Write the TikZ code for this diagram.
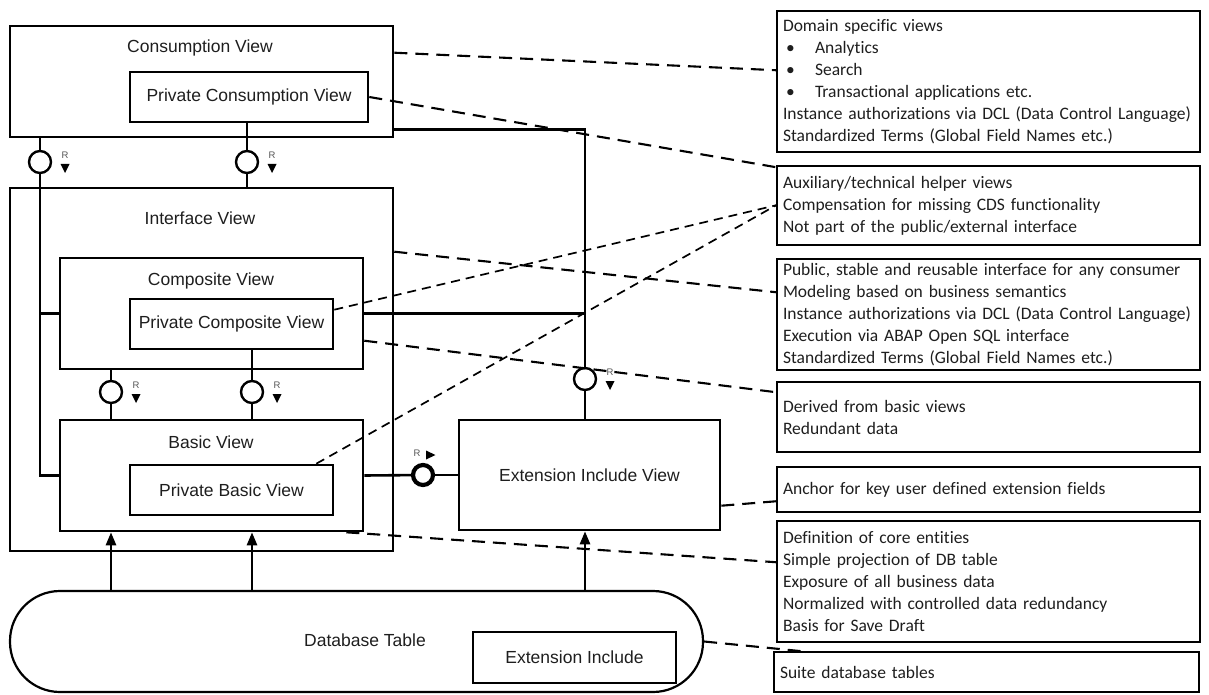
\documentclass[tikz,border=0pt]{standalone}
\usepackage{fontspec}
\setmainfont{Liberation Sans}
\newfontfamily\calibrifont[Ligatures=NoCommon]{Carlito}
\usetikzlibrary{arrows.meta,calc}
\definecolor{txt}{HTML}{1E1E1E}
\definecolor{rgrey}{HTML}{555555}
\newcommand\bul{\makebox[32pt][l]{\hspace{3pt}\textbullet}}
\begin{document}
\begin{tikzpicture}[x=1pt,y=-1pt,
  vbox/.style={draw, line width=2.6pt, inner sep=0pt},
  lbl/.style={inner sep=0pt, text=txt, font=\fontsize{17.5}{21}\selectfont},
  note/.style={draw, line width=1.5pt, inner xsep=6pt, inner ysep=0pt, align=left,
    text width=411pt, text=txt, font=\calibrifont\fontsize{17.5}{22}\selectfont},
  lol/.style={circle, draw, line width=2.4pt, minimum size=22pt, inner sep=0pt, fill=white},
  lolb/.style={circle, draw, line width=4.2pt, minimum size=20pt, inner sep=0pt, fill=white},
  conn/.style={line width=2.6pt},
  arr/.style={line width=2.6pt, -{Triangle[length=13pt,width=10pt]}},
  dbold/.style={line width=2.1pt, dash pattern=on 13pt off 8pt},
  dthin/.style={line width=1.7pt, dash pattern=on 9pt off 6pt},
  rl/.style={inner sep=0pt, text=rgrey, font=\fontsize{9.5}{10}\selectfont},
]
\useasboundingbox (0,0) rectangle (1209,695);

% ---- left column boxes
\node[vbox, minimum width=383pt, minimum height=111pt] (cons) at (201.5,81.5) {};
\node[lbl] (consL) at (200,48) {Consumption View};
\node[vbox, minimum width=238pt, minimum height=50pt, lbl, inner sep=0pt] (pcons) at (249,97) {Private Consumption View};

\node[vbox, minimum width=383pt, minimum height=363pt] (iface) at (201.5,369.5) {};
\node[lbl] (ifaceL) at (200,218) {Interface View};

\node[vbox, minimum width=303pt, minimum height=111pt] (comp) at (211.5,313.5) {};
\node[lbl] (compL) at (211,281) {Composite View};
\node[vbox, minimum width=203pt, minimum height=50pt, lbl, inner sep=0pt] (pcomp) at (231.5,324) {Private Composite View};

\node[vbox, minimum width=303pt, minimum height=111pt] (basic) at (211.5,475.5) {};
\node[lbl] (basicL) at (211,442) {Basic View};
\node[vbox, minimum width=203pt, minimum height=50pt, lbl, inner sep=0pt] (pbasic) at (231.5,490) {Private Basic View};

\node[vbox, minimum width=261pt, minimum height=110pt, lbl, inner sep=0pt] (ext) at (589.5,475) {Extension Include View};

\node[draw, line width=2.2pt, rounded corners=50pt, minimum width=693pt, minimum height=101pt, inner sep=0pt] (db) at (356.5,641.5) {};
\node[lbl] (dbL) at (365,640) {Database Table};
\node[vbox, line width=2.2pt, minimum width=203pt, minimum height=51pt, lbl, inner sep=0pt] (extinc) at (574.5,657.5) {Extension Include};

% ---- lollipops
\node[lol] (lolA) at (40,162) {};
\node[lol] (lolB) at (247,162) {};
\node[lol] (lolC) at (111,392) {};
\node[lol] (lolD) at (252,392) {};
\node[lol] (lolE) at (585,379) {};
\node[lolb] (lolF) at (423,475) {};

% R markers (down)
\foreach \n in {lolA,lolB,lolC,lolD,lolE}{
  \node[rl] at ($(\n)+(25,-7)$) {R};
  \fill ($(\n)+(20.5,2)$) -- ($(\n)+(29.5,2)$) -- ($(\n)+(25,11)$) -- cycle;
}
% R marker (right)
\node[rl] (rF) at ($(lolF)+(-6,-22)$) {R};
\fill ($(lolF)+(3,-24.5)$) -- ($(lolF)+(3,-15.5)$) -- ($(lolF)+(12.5,-20)$) -- cycle;

% ---- solid connectors
\draw[conn] (cons.south -| lolA) -- (lolA);
\draw[conn] (lolA) -- (lolA |- basic.west) -- (basic.west);
\draw[conn] (lolA |- comp.west) -- (comp.west);
\draw[conn] (pcons.south -| lolB) -- (lolB);
\draw[conn] (lolB) -- (lolB |- iface.north);
\draw[conn] (comp.south -| lolC) -- (lolC);
\draw[conn] (lolC) -- (lolC |- basic.north);
\draw[conn] (pcomp.south -| lolD) -- (lolD);
\draw[conn] (lolD) -- (lolD |- basic.north);
\draw[conn] ([yshift=9pt]cons.south east) -| (lolE);
\draw[conn] (comp.east) -- (comp.east -| lolE);
\draw[conn] (lolE) -- (lolE |- ext.north);
\draw[conn] (basic.east) -- (lolF);
\draw[conn] (lolF) -- (ext.west);

% ---- arrows from database
\draw[arr] (db.north -| lolC) -- (basic.south -| lolC);
\draw[arr] (db.north -| lolD) -- (basic.south -| lolD);
\draw[arr] (db.north -| lolE) -- (ext.south -| lolE);

% ---- notes
\node[note, minimum height=141pt] (n1) at (988.5,81.5) {Domain specific views\\ \bul Analytics\\ \bul Search\\ \bul Transactional applications etc.\\ Instance authorizations via DCL (Data Control Language)\\ Standardized Terms (Global Field Names etc.)};
\node[note, minimum height=79pt] (n2) at (988.5,205.5) {Auxiliary/technical helper views\\ Compensation for missing CDS functionality\\ Not part of the public/external interface};
\node[note, minimum height=111pt] (n3) at (988.5,314.5) {Public, stable and reusable interface for any consumer\\ Modeling based on business semantics\\ Instance authorizations via DCL (Data Control Language)\\ Execution via ABAP Open SQL interface\\ Standardized Terms (Global Field Names etc.)};
\node[note, minimum height=70pt] (n4) at (988.5,417) {Derived from basic views\\ Redundant data};
\node[note, minimum height=45pt] (n5) at (988.5,489.5) {Anchor for key user defined extension fields};
\node[note, minimum height=121pt] (n6) at (988.5,581.5) {Definition of core entities\\ Simple projection of DB table\\ Exposure of all business data\\ Normalized with controlled data redundancy\\ Basis for Save Draft};
\node[note, minimum height=40pt, text width=413pt] (n7) at (986.5,672) {Suite database tables};

% ---- dashed annotation lines
\draw[dbold] ([yshift=-28pt]cons.north east) -- ([yshift=-60pt]n1.north west);
\draw[dbold] (pcons.east) -- ([yshift=-2pt]n2.north west);
\draw[dthin] ([yshift=-12pt]pcomp.north east) -- ([yshift=-40pt]n2.north west);
\draw[dthin] ([xshift=-18pt]pbasic.north east) -- ([yshift=-40pt]n2.north west);
\draw[dbold] ([yshift=-65pt]iface.north east) -- ([yshift=-34pt]n3.north west);
\draw[dbold] ([yshift=-84pt]comp.north east) -- ([yshift=-11pt]n4.north west);
\draw[dbold] ([yshift=-87pt]ext.north east) -- ([yshift=-35pt]n5.north west);
\draw[dbold] ([xshift=-18pt]basic.south east) -- ([yshift=-42pt]n6.north west);
\draw[dbold] (db.east) -- ([xshift=29pt]n7.north west);
\end{tikzpicture}
\end{document}
